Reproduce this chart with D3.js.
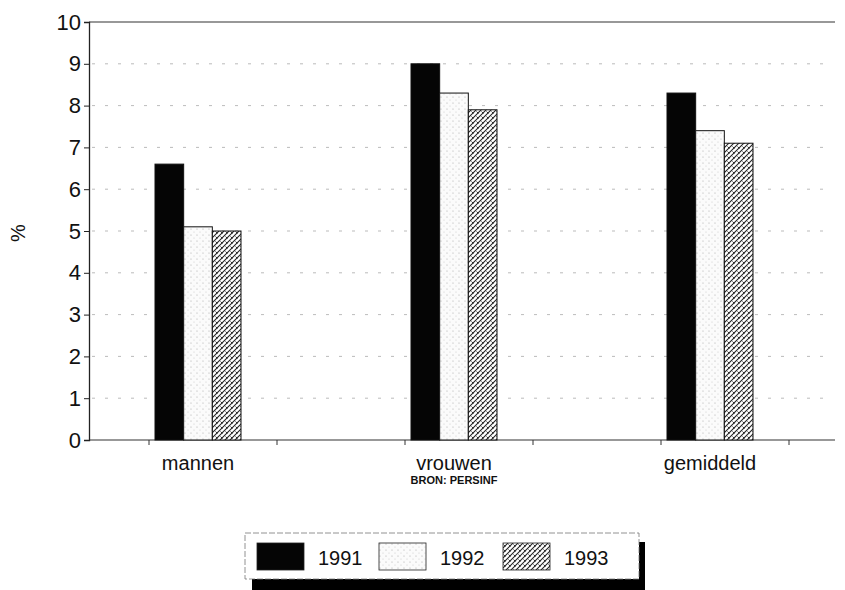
<!DOCTYPE html>
<html>
<head>
<meta charset="utf-8">
<script src="https://cdn.jsdelivr.net/npm/d3@7"></script>
<style>
  body { margin: 0; background: #fff; }
  svg { font-family: "Liberation Sans", Arial, sans-serif; }
</style>
</head>
<body>
<script>
// data
let categories = ["mannen", "vrouwen", "gemiddeld"];
let years = ["1991", "1992", "1993"];
let v1991 = [6.6, 9.0, 8.3];
let v1992 = [5.1, 8.3, 7.4];
let v1993 = [5.0, 7.9, 7.1];
let yTicks = [0, 1, 2, 3, 4, 5, 6, 7, 8, 9, 10];

let rows = categories.map(function(c, i) {
  return {cat: c, values: [v1991[i], v1992[i], v1993[i]]};
});

let svg = d3.select("body").append("svg")
  .attr("width", 845)
  .attr("height", 590);

// fills: black, stippled white, crosshatch
let defs = svg.append("defs");
let dots = defs.append("pattern")
  .attr("id", "dots").attr("patternUnits", "userSpaceOnUse")
  .attr("width", 6).attr("height", 6);
dots.append("rect").attr("width", 6).attr("height", 6).attr("fill", "#fbfbfb");
dots.append("circle").attr("cx", 1).attr("cy", 1).attr("r", 0.6).attr("fill", "#aaa");
dots.append("circle").attr("cx", 4).attr("cy", 4).attr("r", 0.5).attr("fill", "#c4c4c4");

let hatch = defs.append("pattern")
  .attr("id", "hatch").attr("patternUnits", "userSpaceOnUse")
  .attr("width", 5).attr("height", 5);
hatch.append("rect").attr("width", 5).attr("height", 5).attr("fill", "#fff");
hatch.append("path").attr("d", "M0,5 L5,0 M-1,1 L1,-1 M4,6 L6,4")
  .attr("stroke", "#222").attr("stroke-width", 1.1);
hatch.append("path").attr("d", "M0.5,1.5 L2.5,3.5")
  .attr("stroke", "#333").attr("stroke-width", 1);

let fills = ["#050505", "url(#dots)", "url(#hatch)"];

// scales
let y = d3.scaleLinear().domain([0, 10]).range([440, 22]);
let x0 = d3.scaleBand().domain(categories).range([70, 838]);
let x1 = d3.scaleBand().domain(years).range([85, 171]);

// faint dashed gridlines
svg.append("g")
  .selectAll("line")
  .data(yTicks.slice(1, 10))
  .enter().append("line")
    .attr("x1", 92).attr("x2", 832)
    .attr("y1", function(d) { return y(d); })
    .attr("y2", function(d) { return y(d); })
    .attr("stroke", "#aaa")
    .attr("stroke-width", 0.8)
    .attr("stroke-dasharray", "3,10");

// top frame line and x axis line
svg.append("line").attr("x1", 89).attr("x2", 835)
  .attr("y1", y(10)).attr("y2", y(10))
  .attr("stroke", "#333").attr("stroke-width", 1.2);
svg.append("line").attr("x1", 89).attr("x2", 835)
  .attr("y1", y(0)).attr("y2", y(0))
  .attr("stroke", "#333").attr("stroke-width", 1.2);

// small x ticks under the baseline
let xt = d3.scaleLinear().domain([0, 5]).range([149, 789]);
svg.append("g")
  .selectAll("line")
  .data(d3.range(0, 6))
  .enter().append("line")
    .attr("x1", function(d) { return xt(d); })
    .attr("x2", function(d) { return xt(d); })
    .attr("y1", y(0)).attr("y2", y(0) + 5)
    .attr("stroke", "#333");

// y axis
let yAxis = svg.append("g")
  .attr("transform", "translate(89,0)")
  .call(d3.axisLeft(y).tickValues(yTicks).tickSize(5).tickPadding(3));
yAxis.select(".domain").attr("stroke", "#222").attr("stroke-width", 1.3);
yAxis.selectAll("line").attr("stroke", "#222");
yAxis.selectAll("text")
  .attr("font-size", 22)
  .attr("fill", "#111");

// y axis title
svg.append("text")
  .attr("transform", "translate(25,233) rotate(-90)")
  .style("text-anchor", "middle")
  .attr("font-size", 20)
  .attr("fill", "#111")
  .text("%");

// bars
let groups = svg.append("g")
  .selectAll("g")
  .data(rows)
  .enter().append("g")
    .attr("transform", function(d) { return "translate(" + x0(d.cat) + ",0)"; });

groups.selectAll("rect")
  .data(function(d) { return d.values; })
  .enter().append("rect")
    .attr("x", function(d, i) { return x1(years[i]); })
    .attr("y", function(d) { return y(d); })
    .attr("width", x1.bandwidth())
    .attr("height", function(d) { return y(0) - y(d); })
    .attr("fill", function(d, i) { return fills[i]; })
    .attr("stroke", "#111")
    .attr("stroke-width", 1);

// category labels
svg.append("g")
  .selectAll("text")
  .data(categories)
  .enter().append("text")
    .attr("x", function(d) { return x0(d) + x0.bandwidth() / 2; })
    .attr("y", 470)
    .style("text-anchor", "middle")
    .attr("font-size", 20)
    .attr("fill", "#111")
    .text(function(d) { return d; });

svg.append("text")
  .attr("x", x0("vrouwen") + x0.bandwidth() / 2)
  .attr("y", 484)
  .style("text-anchor", "middle")
  .attr("font-size", 11)
  .attr("font-weight", "bold")
  .attr("fill", "#111")
  .text("BRON: PERSINF");

// legend with drop shadow
let legend = svg.append("g").attr("class", "legend");
legend.append("rect")
  .attr("x", 252).attr("y", 542).attr("width", 393).attr("height", 60)
  .attr("fill", "#000");
legend.append("rect")
  .attr("x", 245).attr("y", 533).attr("width", 394).attr("height", 46)
  .attr("fill", "#fff")
  .attr("stroke", "#777")
  .attr("stroke-width", 0.8)
  .attr("stroke-dasharray", "6,2");

let legendX = [257, 379, 503];
let items = legend.selectAll("g.item")
  .data(years)
  .enter().append("g")
    .attr("class", "item")
    .attr("transform", function(d, i) { return "translate(" + legendX[i] + ",543)"; });
items.append("rect")
  .attr("width", 47).attr("height", 27)
  .attr("fill", function(d, i) { return fills[i]; })
  .attr("stroke", "#222")
  .attr("stroke-width", 0.8);
items.append("text")
  .attr("x", 61).attr("y", 22)
  .attr("font-size", 20)
  .attr("fill", "#111")
  .text(function(d) { return d; });
</script>
</body>
</html>
